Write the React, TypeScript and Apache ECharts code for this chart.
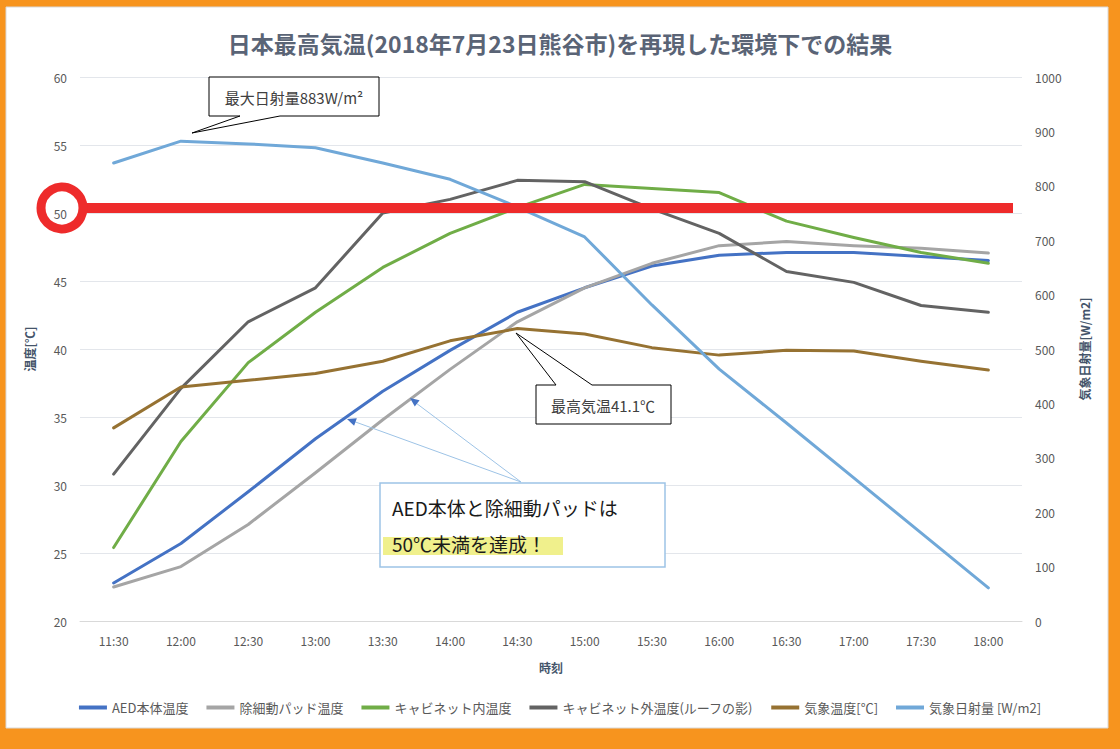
import React, { useEffect, useRef } from "react";
import * as echarts from "echarts";

const categories = ["11:30", "12:00", "12:30", "13:00", "13:30", "14:00", "14:30", "15:00", "15:30", "16:00", "16:30", "17:00", "17:30", "18:00"];

const aedTemp = [22.8, 25.7, 29.5, 33.4, 36.9, 39.9, 42.7, 44.5, 46.1, 46.9, 47.1, 47.1, 46.8, 46.5];
const padTemp = [22.5, 24.0, 27.1, 30.9, 34.8, 38.5, 42.0, 44.5, 46.3, 47.6, 47.9, 47.6, 47.4, 47.05];
const cabinetInTemp = [25.4, 33.2, 39.0, 42.7, 46.0, 48.5, 50.4, 52.1, 51.8, 51.5, 49.4, 48.2, 47.1, 46.3];
const cabinetOutTemp = [30.8, 37.1, 42.0, 44.5, 50.0, 51.0, 52.4, 52.3, 50.3, 48.5, 45.7, 44.9, 43.2, 42.7];
const weatherTemp = [34.2, 37.2, 37.7, 38.2, 39.1, 40.6, 41.5, 41.1, 40.1, 39.55, 39.9, 39.85, 39.1, 38.45];
const solarRadiation = [842, 882, 877, 870, 842, 812, 761, 706, 581, 463, 364, 263, 162, 61];

const seriesNames = [
  "AED本体温度",
  "除細動パッド温度",
  "キャビネット内温度",
  "キャビネット外温度(ルーフの影)",
  "気象温度[℃]",
  "気象日射量 [W/m2]",
];
const seriesColors = ["#4472C4", "#A5A5A5", "#70AD47", "#636363", "#967232", "#70A8D8"];

const FONT = "'Noto Sans CJK JP', 'Noto Sans', sans-serif";

function arrowHead(x1: number, y1: number, x2: number, y2: number, len: number, half: number) {
  const dx = x2 - x1;
  const dy = y2 - y1;
  const d = Math.sqrt(dx * dx + dy * dy);
  const ux = dx / d;
  const uy = dy / d;
  const bx = x2 - ux * len;
  const by = y2 - uy * len;
  return [
    [x2, y2],
    [bx - uy * half, by + ux * half],
    [bx + uy * half, by - ux * half],
  ];
}

export default function App() {
  const ref = useRef<HTMLDivElement>(null);

  useEffect(() => {
    if (!ref.current) return;
    const chart = echarts.init(ref.current, null, { renderer: "svg" });
    const data = [aedTemp, padTemp, cabinetInTemp, cabinetOutTemp, weatherTemp, solarRadiation];

    const option: any = {
      animation: false,
      backgroundColor: "#F7941E",
      textStyle: { fontFamily: FONT },
      title: {
        text: "日本最高気温(2018年7月23日熊谷市)を再現した環境下での結果",
        left: "center",
        top: 26,
        textStyle: { fontSize: 23, fontWeight: "bold", color: "#5A6476", fontFamily: FONT },
      },
      legend: {
        data: seriesNames,
        left: "center",
        top: 696,
        icon: "rect",
        itemWidth: 28,
        itemHeight: 4,
        itemGap: 18,
        textStyle: { fontSize: 13, color: "#595959", fontFamily: FONT },
      },
      grid: { left: 80, right: 98, top: 77, bottom: 128, containLabel: false },
      xAxis: {
        type: "category",
        data: categories,
        boundaryGap: true,
        name: "時刻",
        nameLocation: "middle",
        nameGap: 40,
        nameTextStyle: { fontSize: 12, fontWeight: "bold", color: "#44546A", fontFamily: FONT },
        axisLine: { lineStyle: { color: "#D9D9D9", width: 1 } },
        axisTick: { show: false },
        axisLabel: { fontSize: 12, color: "#595959", margin: 13, fontFamily: FONT },
      },
      yAxis: [
        {
          type: "value",
          min: 20,
          max: 60,
          interval: 5,
          name: "温度[℃]",
          nameLocation: "middle",
          nameGap: 45,
          nameRotate: 90,
          nameTextStyle: { fontSize: 12, fontWeight: "bold", color: "#44546A", fontFamily: FONT },
          axisLine: { show: false },
          axisTick: { show: false },
          axisLabel: { fontSize: 12, color: "#595959", margin: 13, fontFamily: FONT },
          splitLine: { lineStyle: { color: "#E3E6EB", width: 1 } },
        },
        {
          type: "value",
          min: 0,
          max: 1000,
          interval: 100,
          name: "気象日射量[W/m2]",
          nameLocation: "middle",
          nameGap: 56,
          nameRotate: 90,
          nameTextStyle: { fontSize: 12, fontWeight: "bold", color: "#44546A", fontFamily: FONT },
          axisLine: { show: false },
          axisTick: { show: false },
          axisLabel: {
            fontSize: 12,
            color: "#595959",
            margin: 13,
            fontFamily: FONT,
            formatter: (v: number) => String(v),
          },
          splitLine: { show: false },
        },
      ],
      series: seriesNames.map((name, i) => ({
        name,
        type: "line",
        yAxisIndex: i === 5 ? 1 : 0,
        data: data[i],
        showSymbol: false,
        symbol: "none",
        color: seriesColors[i],
        lineStyle: { width: 3, color: seriesColors[i], cap: "round", join: "round" },
        z: 2,
      })),
      graphic: [
        {
          type: "rect",
          shape: { x: 6, y: 7, width: 1102, height: 721 },
          style: { fill: "#FFFFFF", stroke: "#D9D9D9", lineWidth: 1 },
          z: -10,
          silent: true,
        },
        {
          type: "line",
          shape: { x1: 80, y1: 208, x2: 1013, y2: 208 },
          style: { stroke: "#EE2B2B", lineWidth: 10 },
          z: 50,
          silent: true,
        },
        {
          type: "circle",
          shape: { cx: 62, cy: 208, r: 21 },
          style: { fill: "transparent", stroke: "#EE2B2B", lineWidth: 9 },
          z: 51,
          silent: true,
        },
        {
          type: "polygon",
          shape: { points: [[209, 77], [379, 77], [379, 116], [280, 116], [192, 133], [240, 116], [209, 116]] },
          style: { fill: "#FFFFFF", stroke: "#000000", lineWidth: 1 },
          z: 60,
          silent: true,
        },
        {
          type: "text",
          x: 294,
          y: 97,
          style: { text: "最大日射量883W/m²", fontSize: 15, fill: "#404040", align: "center", verticalAlign: "middle", fontFamily: FONT },
          z: 61,
          silent: true,
        },
        {
          type: "polygon",
          shape: { points: [[536, 385], [556, 385], [516, 333], [592, 385], [671, 385], [671, 424], [536, 424]] },
          style: { fill: "#FFFFFF", stroke: "#000000", lineWidth: 1 },
          z: 60,
          silent: true,
        },
        {
          type: "text",
          x: 603,
          y: 405,
          style: { text: "最高気温41.1℃", fontSize: 15, fill: "#404040", align: "center", verticalAlign: "middle", fontFamily: FONT },
          z: 61,
          silent: true,
        },
        {
          type: "line",
          shape: { x1: 521, y1: 482, x2: 350, y2: 420 },
          style: { stroke: "#9DC3E6", lineWidth: 1 },
          z: 60,
          silent: true,
        },
        {
          type: "polygon",
          shape: { points: arrowHead(521, 482, 347, 419, 9, 4) },
          style: { fill: "#4472C4" },
          z: 61,
          silent: true,
        },
        {
          type: "line",
          shape: { x1: 521, y1: 482, x2: 412, y2: 400 },
          style: { stroke: "#9DC3E6", lineWidth: 1 },
          z: 60,
          silent: true,
        },
        {
          type: "polygon",
          shape: { points: arrowHead(521, 482, 410, 398, 9, 4) },
          style: { fill: "#4472C4" },
          z: 61,
          silent: true,
        },
        {
          type: "rect",
          shape: { x: 380, y: 483, width: 285, height: 84 },
          style: { fill: "#FFFFFF", stroke: "#9DC3E6", lineWidth: 1.5 },
          z: 60,
          silent: true,
        },
        {
          type: "rect",
          shape: { x: 383, y: 537, width: 180, height: 18 },
          style: { fill: "#F0F08C" },
          z: 61,
          silent: true,
        },
        {
          type: "text",
          x: 392,
          y: 507,
          style: { text: "AED本体と除細動パッドは", fontSize: 19, fill: "#1A1A1A", align: "left", verticalAlign: "middle", fontFamily: FONT },
          z: 62,
          silent: true,
        },
        {
          type: "text",
          x: 392,
          y: 543,
          style: { text: "50℃未満を達成！", fontSize: 19, fill: "#1A1A1A", align: "left", verticalAlign: "middle", fontFamily: FONT },
          z: 62,
          silent: true,
        },
      ],
    };

    chart.setOption(option);
    return () => {
      chart.dispose();
    };
  }, []);

  return (
    <div
      ref={ref}
      style={{ position: "fixed", left: 0, top: 0, width: 1120, height: 749 }}
    />
  );
}
